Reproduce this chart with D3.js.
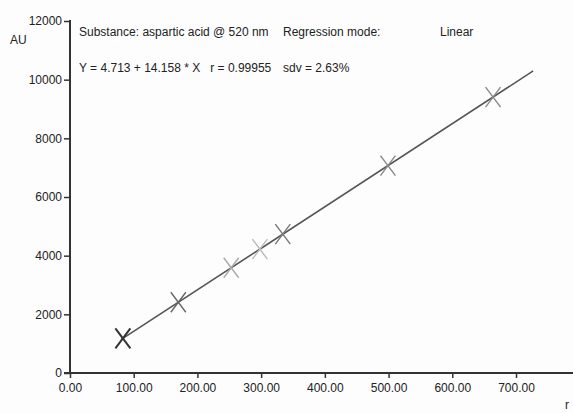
<!DOCTYPE html>
<html lang="en">
<head>
<meta charset="UTF-8">
<script src="https://d3js.org/d3.v7.min.js"></script>
<style>
body { margin: 0; background: #fdfdfd; }
svg { display: block; }
text { font-family: "Liberation Sans", Arial, sans-serif; fill: #222; }
.tick text { font-size: 12px; }
</style>
</head>
<body>
<div id="chart"></div>
<script>
// calibration points (amount vs area)
var amounts = [83, 170, 253, 298, 334, 499, 664];
var areas = [1180, 2411, 3587, 4224, 4734, 7070, 9406];
// regression line ends
var lineX = [80, 727];
var intercept = 4.713, slope = 14.158;
var yTicks = [0, 2000, 4000, 6000, 8000, 10000, 12000];
var xTicks = [0, 100, 200, 300, 400, 500, 600, 700];

var W = 573, H = 413;
var svg = d3.select("#chart").append("svg")
  .attr("width", W).attr("height", H);

var x = d3.scaleLinear().domain([0, 700]).range([70, 516]);
var y = d3.scaleLinear().domain([0, 12000]).range([373, 21]);

// x axis
var xAxis = svg.append("g")
  .attr("transform", "translate(0,373)")
  .call(d3.axisBottom(x).tickValues(xTicks).tickSize(5).tickSizeOuter(0).tickFormat(d3.format(".2f")));
xAxis.select(".domain").remove();
xAxis.append("line").attr("x1", 64).attr("x2", W).attr("y1", 0).attr("y2", 0)
  .attr("stroke", "#333").attr("stroke-width", 2);
xAxis.selectAll(".tick line").attr("stroke", "#333").attr("stroke-width", 1.5);
xAxis.selectAll(".tick text").attr("dy", "0.9em").attr("fill", "#222");

// y axis
var yAxis = svg.append("g")
  .attr("transform", "translate(70,0)")
  .call(d3.axisLeft(y).tickValues(yTicks).tickSize(6).tickSizeOuter(0).tickFormat(d3.format("d")));
yAxis.select(".domain").remove();
yAxis.append("line").attr("x1", 0).attr("x2", 0).attr("y1", 20).attr("y2", 374)
  .attr("stroke", "#333").attr("stroke-width", 2);
yAxis.selectAll(".tick line").attr("stroke", "#333").attr("stroke-width", 1.5);
yAxis.selectAll(".tick text").attr("x", -8).attr("fill", "#222");

svg.append("text").attr("x", 10).attr("y", 44).style("font-size", "12px").text("AU");
svg.append("text").attr("x", 565).attr("y", 409).style("font-size", "12px").text("r");

// regression line
svg.append("line")
  .attr("x1", x(lineX[0])).attr("y1", y(intercept + slope * lineX[0]))
  .attr("x2", x(lineX[1])).attr("y2", y(intercept + slope * lineX[1]))
  .attr("stroke", "#555").attr("stroke-width", 1.6);

// X markers
var shades = ["#333", "#666", "#aaa", "#bbb", "#777", "#888", "#888"];
var pts = svg.selectAll(".pt").data(amounts).enter().append("path")
  .attr("class", "pt")
  .attr("d", function(d, i) {
    var cx = x(d), cy = y(areas[i]), w = 7.5, h = 10;
    return "M" + (cx - w) + "," + (cy - h) + "L" + (cx + w) + "," + (cy + h) +
      "M" + (cx - w) + "," + (cy + h) + "L" + (cx + w) + "," + (cy - h);
  })
  .attr("stroke", function(d, i) { return shades[i]; })
  .attr("stroke-width", function(d, i) { return i == 0 ? 2 : 1.4; })
  .attr("fill", "none");

// header text
svg.append("text").attr("x", 79).attr("y", 36).style("font-size", "12px").text("Substance: aspartic acid @ 520 nm");
svg.append("text").attr("x", 283).attr("y", 36).style("font-size", "12px").text("Regression mode:");
svg.append("text").attr("x", 440).attr("y", 36).style("font-size", "12px").text("Linear");
svg.append("text").attr("x", 79).attr("y", 72).style("font-size", "12px").attr("xml:space", "preserve")
  .text("Y = 4.713 + 14.158 * X   r = 0.99955");
svg.append("text").attr("x", 283).attr("y", 72).style("font-size", "12px").text("sdv = 2.63%");
</script>
</body>
</html>
